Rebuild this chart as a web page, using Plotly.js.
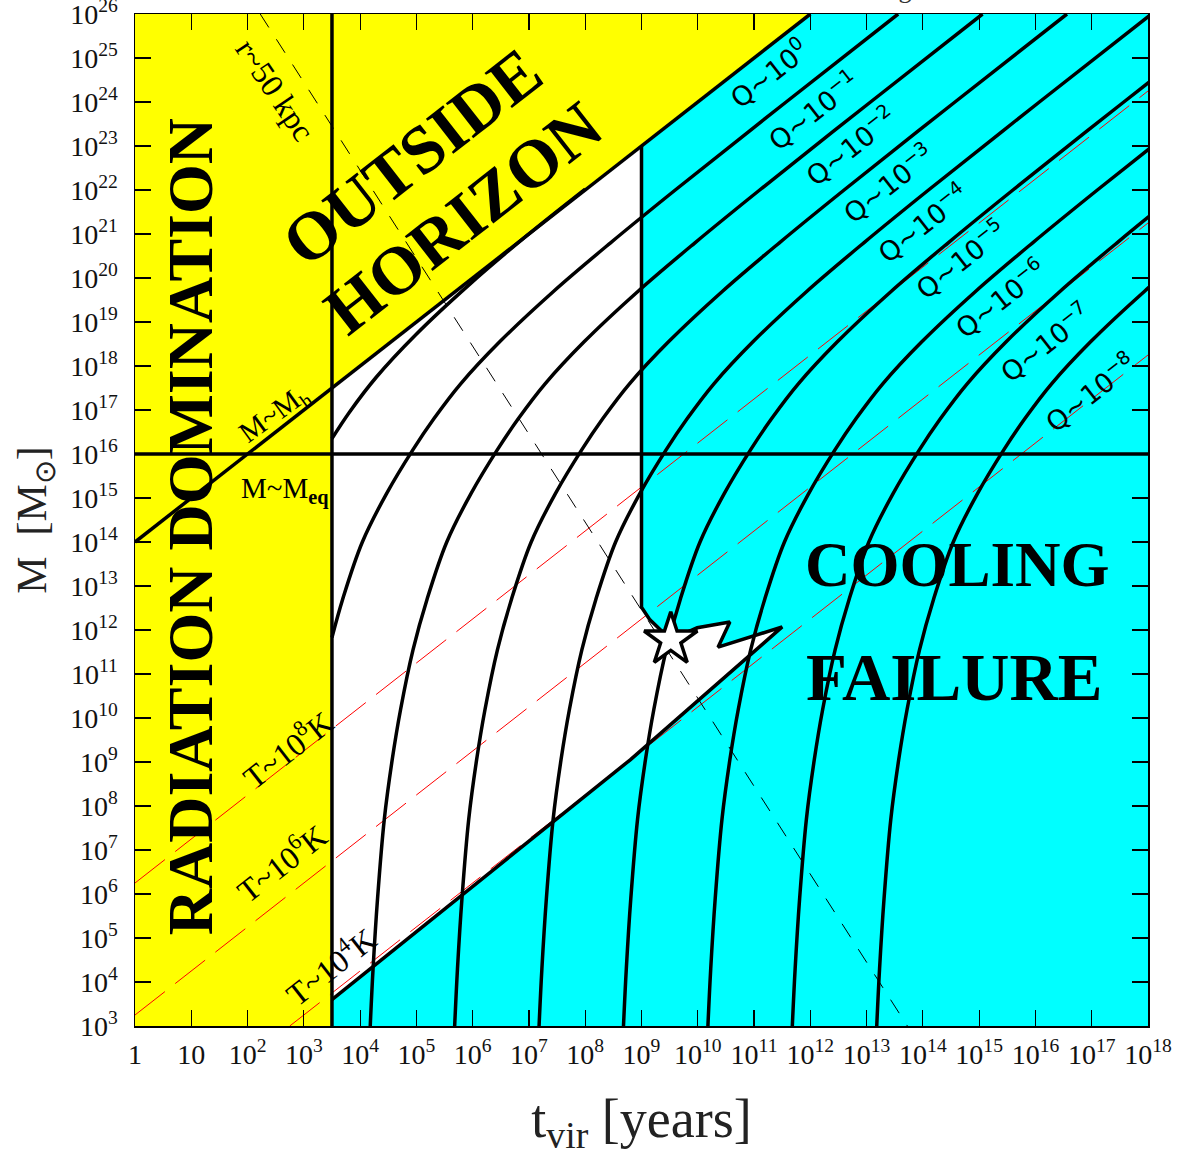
<!DOCTYPE html>
<html>
<head>
<meta charset="utf-8">
<script src="https://cdn.plot.ly/plotly-3.0.1.min.js"></script>
<style>html,body{margin:0;padding:0;background:#fff;}#chart{width:1181px;height:1157px;}</style>
</head>
<body>
<div id="chart"></div>
<script>
// ---- data (log10 units: x = log10 t_vir [yr], y = log10 M [Msun]) ----
const xTickExp = [0,1,2,3,4,5,6,7,8,9,10,11,12,13,14,15,16,17,18];
const xTickText = ['1','10','10<sup>2</sup>','10<sup>3</sup>','10<sup>4</sup>','10<sup>5</sup>','10<sup>6</sup>','10<sup>7</sup>','10<sup>8</sup>','10<sup>9</sup>','10<sup>10</sup>','10<sup>11</sup>','10<sup>12</sup>','10<sup>13</sup>','10<sup>14</sup>','10<sup>15</sup>','10<sup>16</sup>','10<sup>17</sup>','10<sup>18</sup>'];
const yTickExp = [3,4,5,6,7,8,9,10,11,12,13,14,15,16,17,18,19,20,21,22,23,24,25,26];
const yTickText = yTickExp.map(e => '10<sup>' + e + '</sup>');

// regions
const radiation_t = [0, 3.5, 3.5, 0, 0];
const radiation_M = [3, 3, 26, 26, 3];
const horizonRegion_t = [3.5, 12, 3.5, 3.5];
const horizonRegion_M = [17.5, 26, 26, 17.5];
const cooling_t = [3.5, 18, 18, 3.5, 3.5];
const cooling_M = [3, 3, 26, 26, 3];
const allowed_t = [3.5, 3.5, 9.0, 9.0, 9.15, 9.52, 9.99, 10.57, 10.36, 11.5, 8.8, 3.5];
const allowed_M = [3.6, 17.5, 23.0, 12.52, 12.23, 11.78, 12.05, 12.18, 11.61, 12.07, 9.05, 3.6];
const edge_t = [9.0, 9.0, 9.15, 9.52, 9.99, 10.57, 10.36, 11.5, 8.8, 3.5];
const edge_M = [23.0, 12.52, 12.23, 11.78, 12.05, 12.18, 11.61, 12.07, 9.05, 3.6];

// boundary lines
const horizon_t = [0, 12];   const horizon_M = [14, 26];
const teq_t = [3.5, 3.5];     const teq_M = [3, 26];
const meq_t = [0, 18];        const meq_M = [16, 16];
const T4_t = [2.75, 18];      const T4_M = [3, 18.25];
const T6_t = [0, 18];         const T6_M = [3.25, 21.25];
const T8_t = [0, 18];         const T8_M = [6.25, 24.25];
const r50_t = [2.225, 13.725]; const r50_M = [26, 3];

// Q curves
const Q0_M = [16.35, 16.95, 17.75, 18.7, 19.85, 20.95, 22.02];
const Q0_t = [3.5, 3.81, 4.29, 4.98, 5.94, 6.95, 8.0];
const Q1_M = [11.83, 12.7, 14.0, 15.1, 16.1, 16.8, 17.6, 18.55, 19.7, 20.8, 22, 24, 26];
const Q1_t = [3.5, 3.69, 4.04, 4.47, 4.94, 5.31, 5.79, 6.48, 7.44, 8.45, 9.6, 11.57, 13.56];
const Qgrid_M = [3, 4.3, 5.9, 7.7, 9.05, 10.2, 11.55, 12.7, 14.0, 15.1, 16.1, 16.8, 17.6, 18.55, 19.7, 20.8, 22, 24, 26];
const Q2_t = [4.18, 4.23, 4.31, 4.43, 4.57, 4.72, 4.94, 5.19, 5.54, 5.97, 6.44, 6.81, 7.29, 7.98, 8.94, 9.95, 11.10, 13.07, 15.06];
const Q3_t = [5.68, 5.73, 5.81, 5.93, 6.07, 6.22, 6.44, 6.69, 7.04, 7.47, 7.94, 8.31, 8.79, 9.48, 10.44, 11.45, 12.60, 14.57, 16.56];
const Q4_t = [7.18, 7.23, 7.31, 7.43, 7.57, 7.72, 7.94, 8.19, 8.54, 8.97, 9.44, 9.81, 10.29, 10.98, 11.94, 12.95, 14.10, 16.07, 18.06];
const Q5_t = [8.68, 8.73, 8.81, 8.93, 9.07, 9.22, 9.44, 9.69, 10.04, 10.47, 10.94, 11.31, 11.79, 12.48, 13.44, 14.45, 15.60, 17.57, 19.56];
const Q6_t = [10.18, 10.23, 10.31, 10.43, 10.57, 10.72, 10.94, 11.19, 11.54, 11.97, 12.44, 12.81, 13.29, 13.98, 14.94, 15.95, 17.10, 19.07, 21.06];
const Q7_t = [11.68, 11.73, 11.81, 11.93, 12.07, 12.22, 12.44, 12.69, 13.04, 13.47, 13.94, 14.31, 14.79, 15.48, 16.44, 17.45, 18.60, 20.57, 22.56];
const Q8_t = [13.18, 13.23, 13.31, 13.43, 13.57, 13.72, 13.94, 14.19, 14.54, 14.97, 15.44, 15.81, 16.29, 16.98, 17.94, 18.95, 20.10, 22.07, 24.06];

const star_t = [9.52]; const star_M = [11.78];

const qLabels = ['Q~10<sup>0</sup>','Q~10<sup>−1</sup>','Q~10<sup>−2</sup>','Q~10<sup>−3</sup>','Q~10<sup>−4</sup>','Q~10<sup>−5</sup>','Q~10<sup>−6</sup>','Q~10<sup>−7</sup>','Q~10<sup>−8</sup>'];
const qLabel_t = [11.25, 12.05, 12.70, 13.38, 13.98, 14.66, 15.37, 16.17, 16.97];
const qLabel_M = [24.68, 23.82, 23.02, 22.16, 21.27, 20.45, 19.55, 18.55, 17.41];

// ---- styling ----
const CYAN = '#00ffff', YELLOW = '#ffff00', BLACK = '#000000', RED = '#ff0000';
const serif = 'Liberation Serif, Times New Roman, serif';
const sans = 'DejaVu Sans, Liberation Sans, sans-serif';

function region(x, y, color) {
  return {x: x, y: y, mode: 'lines', fill: 'toself', fillcolor: color,
          line: {width: 0, color: color}, hoverinfo: 'skip', showlegend: false};
}
function line(x, y, width, color, dash, shape) {
  return {x: x, y: y, mode: 'lines', line: {width: width, color: color, dash: dash || 'solid', shape: shape || 'linear', smoothing: 1},
          hoverinfo: 'skip', showlegend: false};
}

const traces = [
  region(cooling_t, cooling_M, CYAN),
  region(radiation_t, radiation_M, YELLOW),
  region(horizonRegion_t, horizonRegion_M, YELLOW),
  region(allowed_t, allowed_M, '#ffffff'),
  line(T4_t, T4_M, 1, RED, '38px,13px'),
  line(T6_t, T6_M, 1, RED, '38px,13px'),
  line(T8_t, T8_M, 1, RED, '38px,13px'),
  line(r50_t, r50_M, 1, BLACK, '16px,14px'),
  line(horizon_t, horizon_M, 3.5, BLACK),
  line(teq_t, teq_M, 3.5, BLACK),
  line(meq_t, meq_M, 3.5, BLACK),
  line(edge_t, edge_M, 3.5, BLACK),
  line(Q0_t, Q0_M, 3.5, BLACK, 'solid', 'spline'),
  line(Q1_t, Q1_M, 3.5, BLACK, 'solid', 'spline'),
  line(Q2_t, Qgrid_M, 3.5, BLACK, 'solid', 'spline'),
  line(Q3_t, Qgrid_M, 3.5, BLACK, 'solid', 'spline'),
  line(Q4_t, Qgrid_M, 3.5, BLACK, 'solid', 'spline'),
  line(Q5_t, Qgrid_M, 3.5, BLACK, 'solid', 'spline'),
  line(Q6_t, Qgrid_M, 3.5, BLACK, 'solid', 'spline'),
  line(Q7_t, Qgrid_M, 3.5, BLACK, 'solid', 'spline'),
  line(Q8_t, Qgrid_M, 3.5, BLACK, 'solid', 'spline'),
  {x: star_t, y: star_M, mode: 'markers', hoverinfo: 'skip', showlegend: false,
   marker: {symbol: 'star', size: 40, color: '#ffffff', line: {width: 3.5, color: BLACK}}}
];

const annotations = [];
function txt(x, y, text, size, angle, family) {
  annotations.push({x: x, y: y, xref: 'x', yref: 'y', text: text, showarrow: false,
    textangle: angle, font: {family: family, size: size, color: BLACK}});
}
qLabels.forEach((q, i) => txt(qLabel_t[i], qLabel_M[i], q, 27, -38, sans));
txt(2.47, 16.89, 'M~M<sub>h</sub>', 29, -36, serif);
txt(2.67, 15.18, 'M~M<sub><b>eq</b></sub>', 29, 0, serif);
txt(2.70, 9.32, 'T~10<sup>8</sup>K', 32, -38, serif);
txt(2.58, 6.73, 'T~10<sup>6</sup>K', 32, -38, serif);
txt(3.46, 4.39, 'T~10<sup>4</sup>K', 32, -38, serif);
txt(2.49, 24.27, 'r~50 kpc', 32, 56, serif);
txt(0.98, 14.34, '<b>RADIATION DOMINATION</b>', 64, -90, serif);
txt(4.92, 22.75, '<b>OUTSIDE</b>', 68, -38, serif);
txt(5.83, 21.36, '<b>HORIZON</b>', 68, -38, serif);
txt(14.62, 13.48, '<b>COOLING</b>', 63, 0, serif);
txt(14.57, 10.93, '<b>FAILURE</b>', 67, 0, serif);
annotations.push({xref: 'paper', yref: 'paper', x: 0.844, y: 1.0079, xanchor: 'center', yanchor: 'bottom',
  text: 'Tegmark & Rees 1998', showarrow: false, font: {family: serif, size: 26, color: '#333'}});

const axisCommon = {
  showgrid: false, zeroline: false, showline: true, linecolor: BLACK, linewidth: 1.5,
  mirror: 'ticks', ticks: 'inside', ticklen: 16, tickwidth: 1.2, tickcolor: BLACK,
  tickmode: 'array', ticklabeloverflow: 'allow', tickfont: {family: serif, size: 28, color: '#111'}
};

const layout = {
  width: 1181, height: 1157,
  margin: {l: 135, r: 33, t: 14, b: 131},
  paper_bgcolor: '#ffffff', plot_bgcolor: '#ffffff',
  showlegend: false,
  xaxis: Object.assign({}, axisCommon, {range: [0, 18], tickvals: xTickExp, ticktext: xTickText,
    ticklabelstandoff: 3,
    title: {text: 't<sub>vir</sub> [years]', font: {family: serif, size: 54, color: '#222'}, standoff: 30}}),
  yaxis: Object.assign({}, axisCommon, {range: [3, 26], tickvals: yTickExp, ticktext: yTickText,
    ticklabelstandoff: 10,
    title: {text: 'M  [M<sub>⊙</sub>]', font: {family: serif, size: 42, color: '#222'}, standoff: 10}}),
  annotations: annotations
};

Plotly.newPlot('chart', traces, layout, {displayModeBar: false, staticPlot: true});
</script>
</body>
</html>
